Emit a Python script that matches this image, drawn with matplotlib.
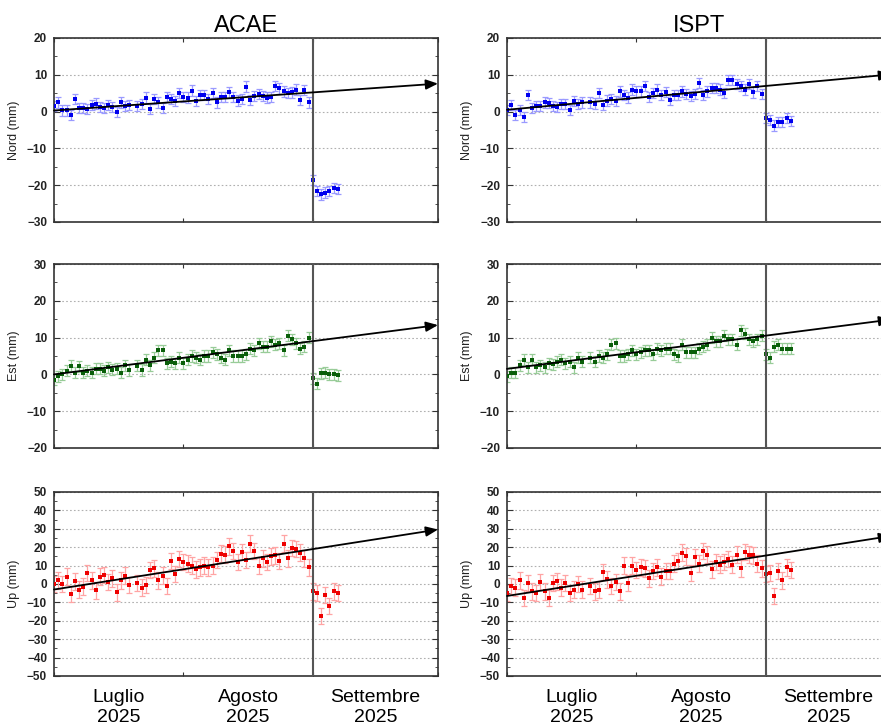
#!/usr/bin/env python3
# plot_gps_timeseries.py

import numpy as np
import matplotlib.pyplot as plt
import matplotlib.dates as mdates
from matplotlib.ticker import MultipleLocator

plt.rcParams['font.family'] = ['Liberation Sans', 'DejaVu Sans']

stations = ['ACAE', 'ISPT']
comp_labels = ['Nord (mm)', 'Est (mm)', 'Up (mm)']
month_labels = ['Luglio\n2025', 'Agosto\n2025', 'Settembre\n2025']
month_starts = ['2025-07-01', '2025-08-01', '2025-09-01', '2025-10-01']
event_date = '2025-09-01'

# day offsets from 1 July (one missing day in July)
pre_days = list(range(0, 19)) + list(range(20, 62))
post_days = list(range(62, 69))

# ---- ACAE ----
acae_nord = [1.5, 2.5, 0.3, 0.3, -1, 3.5, 1, 1, 0.8, 1.8, 2.2, 1.3, 1, 1.8, 1.2, -0.2,
             2.5, 1.5, 1.8, 1.5, 2, 3.8, 0.8, 3.5, 2.5, 1, 4, 3.5, 2.8, 5, 4, 3.8, 5.7,
             2.8, 4.5, 4.5, 3.5, 5, 2.5, 4, 4, 5.2, 4, 3, 3.5, 6.8, 3.2, 4.2, 4.8, 4.3,
             3.8, 4, 7, 6.3, 5.5, 5, 5.2, 6, 3.2, 5.8, 2.5]
acae_nord_post = [-18.5, -21.5, -22.5, -22, -21.5, -20.8, -21]
acae_est = [-1.5, -0.5, 0, 1, 2.3, 0.5, 2.2, 0.5, 1, 0.5, 1.5, 1.5, 1, 2, 1.3, 1.5,
            0.5, 2.5, 1.2, 2.3, 1.2, 4, 2.5, 4.5, 6.5, 6.5, 3, 3.5, 3, 4.5, 3, 4, 5,
            4.5, 4, 5, 5, 6, 5.5, 4.5, 4, 6.5, 5, 5, 5, 5.5, 7, 6.5, 8.5, 7.5, 7.5, 9,
            8, 8.5, 6.5, 10.5, 9.5, 8.5, 7, 7.5, 10]
acae_est_post = [-1, -2.5, 0.3, 0.5, 0, 0, -0.2]
acae_up = [0, 2, 0, 4, -5.5, 1.5, -3, -1.5, 6, 2, -3.5, 4, 5, 1, 3, -4.5, 2, 4.5,
           -0.5, 0.5, -2, -0.5, 7.5, 8.5, 2, 4.5, -1, 12.5, 5.5, 13.5, 12, 11, 10, 8,
           9, 10, 9, 10, 13, 16.5, 16, 20.5, 18, 12, 17.5, 13, 22, 18, 10, 14, 12, 15,
           15.5, 12.5, 22, 14, 19.5, 19, 17, 14, 9]
acae_up_post = [-4, -5, -17.5, -6, -12, -4, -5]

# ---- ISPT ----
ispt_nord = [0.5, 1.8, -1, 0.5, -1.5, 4.5, 1, 1.5, 1.5, 2.5, 2.3, 1.5, 1.2, 2, 2, 0.5,
             2.8, 2, 2.5, 2.5, 2.2, 5, 1.8, 3, 3.5, 2.8, 5.5, 4.5, 3.8, 6, 5.5, 5.5, 7,
             4, 5, 6, 4.5, 5.3, 3.2, 4.5, 4.5, 5.5, 4.8, 4.2, 4.8, 7.8, 4.5, 5.5, 6.5,
             6.5, 6, 5, 8.5, 8.5, 7.5, 7, 6, 7.5, 5.2, 7, 4.8]
ispt_nord_post = [-1.8, -2.2, -3.8, -2.8, -2.8, -1.8, -2.5]
ispt_est = [-0.5, 0.5, 0.5, 2.5, 4, 2, 4, 2, 2.5, 2, 3, 2.8, 3.5, 4, 3, 3.5, 2, 4.5,
            3.5, 4.5, 3.5, 5, 4.5, 5.5, 8, 8.5, 5, 5, 5.5, 6.5, 5.5, 6, 6.5, 6.5, 5.5,
            7, 6.5, 7, 7, 5.5, 5, 8, 6, 6, 6, 7, 7.5, 8, 10, 9, 9, 10.5, 9.5, 9.5, 8,
            12, 11, 9.5, 9, 9.5, 10.5]
ispt_est_post = [5.5, 4.5, 7.5, 8, 7, 7, 7]
ispt_up = [-5, -1, -2, 2, -7.5, 0.5, -4, -5, 1, -4, -7.5, 0.5, 1.5, -2, 0.5, -5, -3,
           0, -3, -1, -4, -3, 6.5, 2.5, -1, 1, -4, 10, 0.5, 10, 7.5, 9, 8.5, 3, 7, 9,
           4, 7, 7, 11, 12.5, 17, 15, 6, 14.5, 11, 18, 16, 8, 12, 10.5, 12, 13.5, 10.5,
           16, 8.5, 17.5, 16, 15.5, 11, 8.5]
ispt_up_post = [5.5, 6, -6.5, 7, 2, 9, 7.5]

# trend line values at 1 July and 1 October
acae_trend = [(0.3, 7.6), (0.0, 13.4), (-3.0, 29.6)]
ispt_trend = [(0.5, 10.1), (1.5, 14.9), (-6.5, 26.1)]

sigmas = [1.4, 1.5, 4.5]
ylims = [(-30, 20), (-20, 30), (-50, 50)]

point_colors = ['#0000ee', '#0a5f0a', '#ee0000']
bar_colors = ['#9a9aff', '#98cc98', '#ffa4a4']

series = {
    'ACAE': [(acae_nord, acae_nord_post), (acae_est, acae_est_post), (acae_up, acae_up_post)],
    'ISPT': [(ispt_nord, ispt_nord_post), (ispt_est, ispt_est_post), (ispt_up, ispt_up_post)],
}
trends = {'ACAE': acae_trend, 'ISPT': ispt_trend}


def main():
    fig = plt.figure(figsize=(8.81, 7.28), dpi=100)

    t0 = np.datetime64('2025-07-01')
    pre_x = mdates.date2num(t0 + np.array(pre_days))
    post_x = mdates.date2num(t0 + np.array(post_days))
    edges = mdates.date2num(np.array(month_starts, dtype='datetime64[D]'))
    mids = (edges[:-1] + edges[1:]) / 2
    x_event = mdates.date2num(np.datetime64(event_date))

    lefts = [54 / 881, 507 / 881]
    bottoms = [1 - 222 / 728, 1 - 448 / 728, 1 - 676 / 728]
    w, h = 384 / 881, 184 / 728

    for col, st in enumerate(stations):
        for row in range(3):
            ax = fig.add_axes([lefts[col], bottoms[row], w, h])
            pre, post = series[st][row]
            y = list(pre) + list(post)
            x = np.concatenate([pre_x, post_x])
            ax.errorbar(x, y, yerr=sigmas[row], fmt='none', ecolor=bar_colors[row],
                        elinewidth=0.9, capsize=2.2, capthick=0.9, zorder=2)
            ax.plot(x, y, 's', color=point_colors[row], ms=2.5, mew=0, zorder=3)

            ax.axvline(x_event, color='#555555', lw=1.5, zorder=4)

            y0, y1 = trends[st][row]
            ax.annotate('', xy=(edges[-1], y1), xytext=(edges[0], y0),
                        arrowprops=dict(arrowstyle='-|>,head_length=0.6,head_width=0.25',
                                        color='black', lw=1.3, shrinkA=0, shrinkB=0,
                                        mutation_scale=12),
                        annotation_clip=False, zorder=5)

            ax.set_xlim(edges[0], edges[-1])
            ax.set_ylim(*ylims[row])
            ax.yaxis.set_major_locator(MultipleLocator(10))
            ax.yaxis.set_minor_locator(MultipleLocator(5))
            ax.grid(axis='y', which='major', linestyle=(0, (1.5, 2)), color='#b0b0b0', lw=0.8)

            ax.set_xticks(edges)
            ax.set_xticklabels([])
            ax.set_xticks(mids, minor=True)
            if row == 2:
                ax.set_xticklabels(month_labels, minor=True, fontsize=14, linespacing=1.3)
            else:
                ax.set_xticklabels([], minor=True)
            ax.tick_params(axis='x', which='major', direction='in', length=3, top=True,
                           color='#333333')
            ax.tick_params(axis='x', which='minor', length=0, pad=9)
            ax.tick_params(axis='y', which='both', direction='in', right=True,
                           color='#333333', labelsize=8.5, labelcolor='#222222', pad=5)
            ax.tick_params(axis='y', which='major', length=4)
            ax.tick_params(axis='y', which='minor', length=2.5)
            for lab in ax.get_yticklabels():
                lab.set_fontweight('bold')

            ax.set_ylabel(comp_labels[row], fontsize=9, labelpad=5, color='#222222')
            for sp in ax.spines.values():
                sp.set_color('#333333')
                sp.set_linewidth(1.2)

            if row == 0:
                ax.set_title(st, fontsize=17, pad=4)

    fig.savefig('out.png', dpi=100)


if __name__ == '__main__':
    main()
